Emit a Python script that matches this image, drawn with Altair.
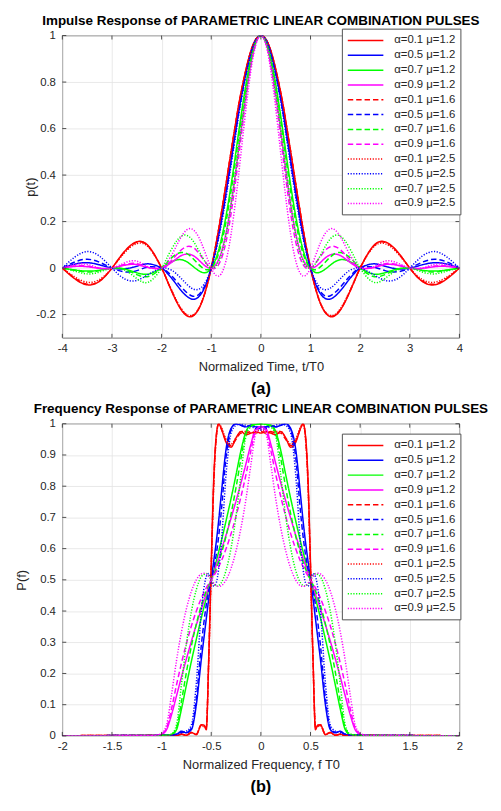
import altair as alt
import pandas as pd

LABELS = ["α=0.1 μ=1.2", "α=0.5 μ=1.2", "α=0.7 μ=1.2", "α=0.9 μ=1.2",
          "α=0.1 μ=1.6", "α=0.5 μ=1.6", "α=0.7 μ=1.6", "α=0.9 μ=1.6",
          "α=0.1 μ=2.5", "α=0.5 μ=2.5", "α=0.7 μ=2.5", "α=0.9 μ=2.5"]
COLORS = ["#ff0000", "#0000ff", "#00ff00", "#ff00ff"] * 3
DASHES = [[1, 0]] * 4 + [[5.5, 3]] * 4 + [[1.2, 1.6]] * 4

# ---------- panel (a): impulse response, read for t >= 0 (curves are even) ----------
T_HALF = [0, 0.2, 0.4, 0.5, 0.6, 0.7, 0.8, 0.9, 1.0, 1.1, 1.2, 1.3, 1.4, 1.5, 1.6, 1.7, 1.8,
          1.9, 2.0, 2.25, 2.5, 2.75, 3.0, 3.25, 3.5, 3.75, 4.0]

P_R12 = [1, 0.935, 0.755, 0.634, 0.501, 0.365, 0.231, 0.108, 0, -0.087, -0.152, -0.192, -0.209, -0.204, -0.181, -0.144, -0.098, -0.048, 0, 0.091, 0.113, 0.071, 0, -0.057, -0.072, -0.046, 0]
P_B12 = [1, 0.927, 0.730, 0.602, 0.465, 0.329, 0.202, 0.091, 0, -0.067, -0.110, -0.131, -0.133, -0.120, -0.098, -0.071, -0.043, -0.019, 0, 0.018, 0.008, -0.003, 0, 0.014, 0.023, 0.017, 0]
P_G12 = [1, 0.903, 0.654, 0.504, 0.357, 0.226, 0.121, 0.045, 0, -0.019, -0.017, -0.004, 0.013, 0.028, 0.036, 0.035, 0.027, 0.015, 0, -0.025, -0.020, -0.004, 0, -0.009, -0.013, -0.008, 0]
P_M12 = [1, 0.882, 0.591, 0.426, 0.275, 0.152, 0.066, 0.017, 0, 0.006, 0.024, 0.044, 0.057, 0.060, 0.054, 0.040, 0.024, 0.009, 0, 0.001, 0.015, 0.012, 0, -0.001, 0.006, 0.007, 0]
P_R16 = [1, 0.935, 0.754, 0.633, 0.501, 0.364, 0.231, 0.107, 0, -0.087, -0.151, -0.191, -0.207, -0.202, -0.179, -0.142, -0.097, -0.048, 0, 0.090, 0.111, 0.069, 0, -0.055, -0.069, -0.043, 0]
P_B16 = [1, 0.926, 0.725, 0.596, 0.458, 0.322, 0.196, 0.087, 0, -0.063, -0.102, -0.120, -0.119, -0.104, -0.082, -0.057, -0.033, -0.013, 0, 0.005, -0.011, -0.016, 0, 0.025, 0.038, 0.026, 0]
P_G16 = [1, 0.897, 0.635, 0.480, 0.331, 0.202, 0.101, 0.034, 0, -0.007, 0.005, 0.026, 0.048, 0.063, 0.067, 0.060, 0.044, 0.022, 0, -0.035, -0.028, -0.005, 0, -0.011, -0.017, -0.009, 0]
P_M16 = [1, 0.872, 0.561, 0.389, 0.235, 0.115, 0.038, 0.002, 0, 0.021, 0.050, 0.077, 0.092, 0.092, 0.079, 0.057, 0.033, 0.013, 0, 0.002, 0.019, 0.015, 0, -0.001, 0.009, 0.009, 0]
P_R25 = [1, 0.934, 0.753, 0.632, 0.499, 0.363, 0.230, 0.107, 0, -0.086, -0.150, -0.189, -0.204, -0.199, -0.175, -0.139, -0.094, -0.047, 0, 0.086, 0.105, 0.065, 0, -0.049, -0.061, -0.038, 0]
P_B25 = [1, 0.922, 0.715, 0.581, 0.442, 0.306, 0.183, 0.080, 0, -0.054, -0.084, -0.093, -0.086, -0.068, -0.046, -0.025, -0.009, -0.001, 0, -0.025, -0.053, -0.046, 0, 0.051, 0.071, 0.047, 0]
P_G25 = [1, 0.883, 0.593, 0.427, 0.273, 0.146, 0.057, 0.010, 0, 0.019, 0.055, 0.094, 0.126, 0.141, 0.138, 0.116, 0.081, 0.040, 0, -0.059, -0.045, -0.008, 0, -0.017, -0.025, -0.013, 0]
P_M25 = [1, 0.850, 0.494, 0.306, 0.146, 0.033, -0.025, -0.032, 0, 0.053, 0.109, 0.150, 0.169, 0.163, 0.136, 0.096, 0.055, 0.021, 0, 0.003, 0.030, 0.022, 0, 0.000, 0.016, 0.015, 0]

# ---------- panel (b): frequency response, read for f >= 0 (curves are even) ----------
F_HALF = [0, 0.05, 0.1, 0.15, 0.2, 0.25, 0.3, 0.35, 0.4, 0.425, 0.45, 0.475, 0.5, 0.525, 0.55,
          0.575, 0.6, 0.65, 0.7, 0.75, 0.8, 0.85, 0.9, 0.95, 1.0, 1.05, 1.1, 1.25, 1.5, 1.75, 2.0]

Q_R12 = [0.97, 0.975, 0.97, 0.965, 0.975, 0.955, 0.925, 0.94, 0.985, 1.0, 0.96, 0.82, 0.55, 0.25, 0.02, 0.035, 0.035, 0.004, 0.011, 0.002, 0.006, 0.001, 0.004, 0.001, 0.003, 0.001, 0.002, 0.001, 0.001, 0.001, 0.0]
Q_B12 = [0.99, 0.99, 0.995, 0.99, 0.995, 1.0, 0.985, 0.92, 0.77, 0.69, 0.62, 0.56, 0.5, 0.44, 0.375, 0.31, 0.245, 0.1, 0.02, 0.01, 0.015, 0.005, 0.003, 0.004, 0.002, 0.002, 0.001, 0.001, 0.001, 0.0, 0.0]
Q_G12 = [1.0, 0.998, 0.995, 0.975, 0.915, 0.837, 0.761, 0.690, 0.622, 0.59, 0.559, 0.529, 0.5, 0.471, 0.441, 0.41, 0.378, 0.31, 0.239, 0.163, 0.086, 0.02, 0.004, 0.003, 0.002, 0.001, 0.001, 0.001, 0.0, 0.0, 0.0]
Q_M12 = [0.99, 0.985, 0.935, 0.872, 0.811, 0.753, 0.698, 0.644, 0.594, 0.569, 0.546, 0.522, 0.5, 0.478, 0.454, 0.431, 0.406, 0.356, 0.303, 0.247, 0.189, 0.128, 0.068, 0.02, 0.005, 0.002, 0.001, 0.001, 0.0, 0.0, 0.0]
Q_R16 = [0.975, 0.97, 0.975, 0.97, 0.97, 0.95, 0.93, 0.945, 0.985, 1.0, 0.955, 0.81, 0.54, 0.25, 0.025, 0.033, 0.036, 0.005, 0.011, 0.002, 0.005, 0.001, 0.004, 0.001, 0.003, 0.001, 0.002, 0.001, 0.001, 0.001, 0.0]
Q_B16 = [0.985, 0.99, 0.995, 0.99, 0.995, 1.0, 0.98, 0.895, 0.715, 0.64, 0.58, 0.535, 0.5, 0.465, 0.42, 0.36, 0.29, 0.12, 0.025, 0.012, 0.012, 0.005, 0.003, 0.004, 0.002, 0.002, 0.001, 0.001, 0.001, 0.0, 0.0]
Q_G16 = [1.0, 0.998, 0.993, 0.97, 0.89, 0.796, 0.712, 0.641, 0.582, 0.557, 0.535, 0.516, 0.5, 0.484, 0.465, 0.443, 0.418, 0.359, 0.288, 0.204, 0.11, 0.025, 0.005, 0.003, 0.002, 0.001, 0.001, 0.001, 0.0, 0.0, 0.0]
Q_M16 = [0.99, 0.98, 0.915, 0.837, 0.767, 0.704, 0.648, 0.6, 0.559, 0.542, 0.526, 0.512, 0.5, 0.488, 0.474, 0.458, 0.441, 0.4, 0.352, 0.296, 0.233, 0.163, 0.087, 0.025, 0.006, 0.002, 0.001, 0.001, 0.0, 0.0, 0.0]
Q_R25 = [0.98, 0.975, 0.97, 0.975, 0.975, 0.955, 0.935, 0.95, 0.99, 1.0, 0.95, 0.8, 0.53, 0.24, 0.03, 0.03, 0.033, 0.006, 0.01, 0.002, 0.005, 0.001, 0.004, 0.001, 0.003, 0.001, 0.002, 0.001, 0.001, 0.001, 0.0]
Q_B25 = [0.98, 0.985, 0.99, 0.995, 1.0, 0.995, 0.97, 0.84, 0.61, 0.535, 0.49, 0.48, 0.5, 0.52, 0.51, 0.47, 0.40, 0.17, 0.035, 0.015, 0.01, 0.005, 0.003, 0.004, 0.002, 0.002, 0.001, 0.001, 0.001, 0.0, 0.0]
Q_G25 = [1.0, 0.997, 0.99, 0.96, 0.837, 0.704, 0.602, 0.531, 0.490, 0.482, 0.480, 0.487, 0.5, 0.513, 0.520, 0.517, 0.510, 0.469, 0.398, 0.296, 0.165, 0.035, 0.006, 0.003, 0.002, 0.001, 0.001, 0.001, 0.0, 0.0, 0.0]
Q_M25 = [0.985, 0.97, 0.87, 0.759, 0.667, 0.593, 0.537, 0.5, 0.481, 0.479, 0.481, 0.489, 0.5, 0.511, 0.519, 0.521, 0.519, 0.5, 0.463, 0.407, 0.333, 0.241, 0.132, 0.035, 0.008, 0.003, 0.001, 0.001, 0.0, 0.0, 0.0]

IMP = [P_R12, P_B12, P_G12, P_M12, P_R16, P_B16, P_G16, P_M16, P_R25, P_B25, P_G25, P_M25]
FRQ = [Q_R12, Q_B12, Q_G12, Q_M12, Q_R16, Q_B16, Q_G16, Q_M16, Q_R25, Q_B25, Q_G25, Q_M25]

TITLE_A = "Impulse Response of PARAMETRIC LINEAR COMBINATION PULSES"
TITLE_B = "Frequency Response of PARAMETRIC LINEAR COMBINATION PULSES"
XT_A = [-4, -3, -2, -1, 0, 1, 2, 3, 4]
YT_A = [-0.2, 0, 0.2, 0.4, 0.6, 0.8, 1.0]
XT_B = [-2, -1.5, -1, -0.5, 0, 0.5, 1, 1.5, 2]
YT_B = [0, 0.1, 0.2, 0.3, 0.4, 0.5, 0.6, 0.7, 0.8, 0.9, 1.0]


def mirrored(xs, series):
    rows = []
    for k, (lab, ys) in enumerate(zip(LABELS, series)):
        xf = [-x for x in reversed(xs[1:])] + list(xs)
        yf = list(reversed(ys[1:])) + list(ys)
        for i, (x, y) in enumerate(zip(xf, yf)):
            rows.append({"x": x, "y": y, "s": lab, "k": k, "i": i})
    return pd.DataFrame(rows)


df_a = mirrored(T_HALF, IMP)
df_b = mirrored(F_HALF, FRQ)

W = 402
FONT = "Liberation Sans"
TXT = "#262626"


def panel(df, H, xdom, xticks, ydom, yticks, xtitle, ytitle, ytitle_x, title, letter,
          letter_dy, leg_y, interp):
    axis_common = dict(grid=True, gridColor="#e3e3e3", gridWidth=0.8, domain=False,
                       ticks=False, labelFlush=False, labelOverlap=False, format="~g",
                       labelFont=FONT, labelFontSize=11.5, labelColor=TXT, titleFont=FONT,
                       titleFontSize=13, titleFontWeight="normal", titleColor=TXT,
                       labelExpr="replace(datum.label, '−', '-')")
    ax_x = alt.Axis(values=xticks, title=xtitle, labelPadding=5, titlePadding=7, **axis_common)
    ax_y = alt.Axis(values=yticks, title=ytitle, labelPadding=7, titleX=ytitle_x, titleY=H / 2,
                    titleBaseline="bottom", titleAlign="center", **axis_common)
    leg = alt.Legend(title=None, orient="none", legendX=283, legendY=leg_y,
                     symbolType="M-3,0H3", symbolSize=144, symbolStrokeWidth=1.5,
                     symbolOffset=12, labelOffset=22,
                     labelFont=FONT, labelFontSize=11.5, labelColor=TXT,
                     rowPadding=2, padding=5, strokeColor="#505050", fillColor="white",
                     labelLimit=120)
    xs = alt.Scale(domain=xdom, nice=False, zero=False)
    ys = alt.Scale(domain=ydom, nice=False, zero=False)
    lines = alt.Chart(df).mark_line(strokeWidth=1.5, interpolate=interp, clip=True).encode(
        x=alt.X("x:Q", scale=xs, axis=ax_x),
        y=alt.Y("y:Q", scale=ys, axis=ax_y),
        color=alt.Color("s:N", scale=alt.Scale(domain=LABELS, range=COLORS), legend=leg),
        strokeDash=alt.StrokeDash("s:N", scale=alt.Scale(domain=LABELS, range=DASHES), legend=leg),
        order="i:Q",
    )
    # inward tick marks on all four sides of the box
    tick_style = dict(color=TXT, strokeWidth=0.8)
    dx = pd.DataFrame({"x": xticks})
    dy = pd.DataFrame({"y": yticks})
    tb = alt.Chart(dx).mark_rule(**tick_style).encode(
        x=alt.X("x:Q", scale=xs, axis=ax_x), y=alt.value(H), y2=alt.value(H - 4))
    tt = alt.Chart(dx).mark_rule(**tick_style).encode(
        x=alt.X("x:Q", scale=xs, axis=ax_x), y=alt.value(0), y2=alt.value(4))
    tl = alt.Chart(dy).mark_rule(**tick_style).encode(
        y=alt.Y("y:Q", scale=ys, axis=ax_y), x=alt.value(0), x2=alt.value(4))
    tr = alt.Chart(dy).mark_rule(**tick_style).encode(
        y=alt.Y("y:Q", scale=ys, axis=ax_y), x=alt.value(W), x2=alt.value(W - 4))
    txt = pd.DataFrame({"t": [title, letter], "yy": [-15, H + letter_dy],
                        "fs": [13.6, 16.5]})
    head = alt.Chart(txt).mark_text(
        font=FONT, fontWeight="bold", color="black", baseline="middle", align="center"
    ).encode(x=alt.value(W / 2), y=alt.Y("yy:Q", scale=None), text="t:N",
             size=alt.Size("fs:Q", scale=None))
    return alt.layer(lines, tb, tt, tl, tr, head).properties(width=W, height=H)


pa = panel(df_a, 306, [-4, 4], XT_A, [-0.3, 1], YT_A, "Normalized Time, t/T0", "p(t)", -25,
           TITLE_A, "(a)", 52, -7, "natural")
pb = panel(df_b, 316, [-2, 2], XT_B, [0, 1], YT_B, "Normalized Frequency, f T0", "P(f)", -34,
           TITLE_B, "(b)", 52, 10, "monotone")

chart = alt.vconcat(pa, pb, spacing=87, bounds="flush").resolve_scale(
    color="independent", strokeDash="independent"
).configure_view(stroke="#4d4d4d", strokeWidth=0.8).properties(
    padding={"left": 7, "top": 0, "right": 4, "bottom": 0}
)

chart.save("out.html", embed_options={"renderer": "svg", "actions": False})
